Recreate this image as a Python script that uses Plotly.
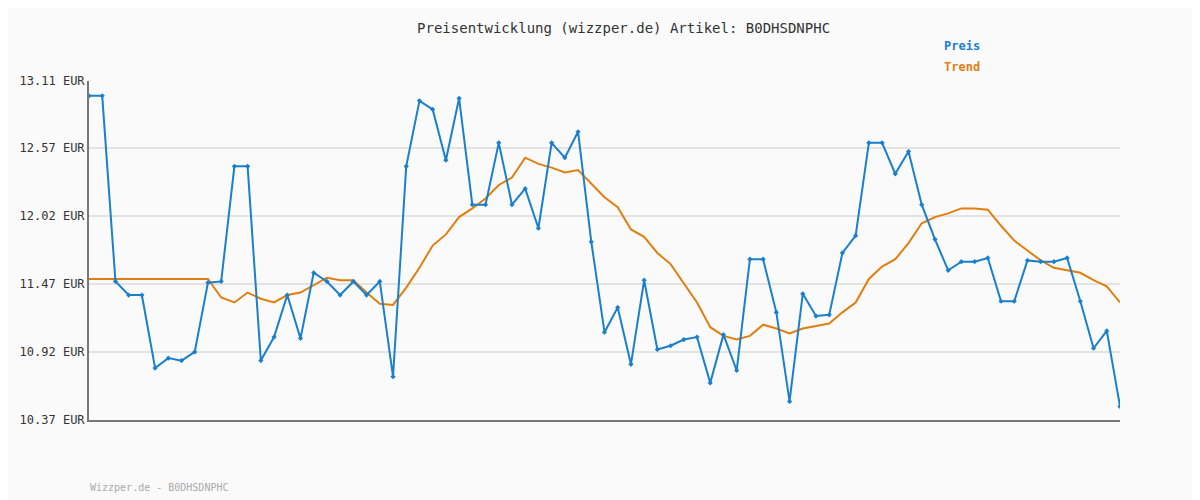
import plotly.graph_objects as go

# Daten
preis = [12.99, 12.99, 11.49, 11.38, 11.38, 10.79, 10.87, 10.85, 10.92, 11.48,
         11.49, 12.42, 12.42, 10.85, 11.04, 11.38, 11.03, 11.56, 11.49, 11.38,
         11.49, 11.38, 11.49, 10.72, 12.42, 12.95, 12.88, 12.47, 12.97, 12.11,
         12.11, 12.61, 12.11, 12.24, 11.92, 12.61, 12.49, 12.70, 11.81, 11.08,
         11.28, 10.82, 11.50, 10.94, 10.97, 11.02, 11.04, 10.67, 11.06, 10.77,
         11.67, 11.67, 11.24, 10.52, 11.39, 11.21, 11.22, 11.72, 11.86, 12.61,
         12.61, 12.36, 12.54, 12.11, 11.83, 11.58, 11.65, 11.65, 11.68, 11.33,
         11.33, 11.66, 11.65, 11.65, 11.68, 11.33, 10.95, 11.09, 10.48]
trend = [11.51] * 10 + [
    11.36, 11.32, 11.40, 11.35, 11.32, 11.38, 11.40, 11.46, 11.52, 11.50,
    11.50, 11.40, 11.31, 11.30, 11.44, 11.60, 11.78, 11.87, 12.01, 12.08,
    12.16, 12.27, 12.33, 12.49, 12.44, 12.41, 12.37, 12.39, 12.28, 12.17,
    12.09, 11.91, 11.85, 11.72, 11.63, 11.47, 11.32, 11.12, 11.05, 11.02,
    11.05, 11.14, 11.11, 11.07, 11.11, 11.13, 11.15, 11.24, 11.32, 11.51,
    11.61, 11.67, 11.80, 11.96, 12.01, 12.04, 12.08, 12.08, 12.07, 11.94,
    11.82, 11.74, 11.66, 11.60, 11.58, 11.56, 11.50, 11.45, 11.32]
x = list(range(len(preis)))
y_ticks = [10.37, 10.92, 11.47, 12.02, 12.57, 13.11]

mono = "DejaVu Sans Mono"
blau = "#1a7fcc"
orange = "#e07f10"

fig = go.Figure()
fig.add_trace(go.Scatter(x=x, y=trend, mode="lines", name="Trend",
                         line=dict(color=orange, width=2)))
fig.add_trace(go.Scatter(x=x, y=preis, mode="lines+markers", name="Preis",
                         line=dict(color=blau, width=2),
                         marker=dict(symbol="diamond", size=4, color=blau)))

fig.update_layout(
    width=1200, height=500,
    margin=dict(l=72, r=88, t=73, b=88),
    paper_bgcolor="#fafafa", plot_bgcolor="#fafafa",
    showlegend=False,
    font=dict(family=mono, size=12, color="#333"),
    title=dict(text="Preisentwicklung (wizzper.de) Artikel: B0DHSDNPHC",
               x=0.513, y=0.96, xanchor="center", yanchor="middle",
               font=dict(family=mono, size=14, color="#333")),
    xaxis=dict(range=[0, len(preis) - 1], showticklabels=False, showgrid=False,
               zeroline=False, showline=True, linecolor="#777", linewidth=2, ticks=""),
    yaxis=dict(range=[y_ticks[0], y_ticks[-1]], tickvals=y_ticks,
               ticktext=[f"{v:.2f} EUR" for v in y_ticks], showgrid=True,
               gridcolor="#e3e3e3", gridwidth=2, zeroline=False, showline=True,
               linecolor="#777", linewidth=2, ticks="", ticklen=0,
               tickfont=dict(family=mono, size=12, color="#333")),
)
fig.add_annotation(text="<b>Preis</b>", xref="paper", yref="paper", x=0.827, y=1.103,
                   xanchor="left", yanchor="middle", showarrow=False,
                   font=dict(family=mono, size=12, color=blau))
fig.add_annotation(text="<b>Trend</b>", xref="paper", yref="paper", x=0.827, y=1.041,
                   xanchor="left", yanchor="middle", showarrow=False,
                   font=dict(family=mono, size=12, color=orange))
fig.add_annotation(text="Wizzper.de - B0DHSDNPHC", xref="paper", yref="paper", x=-0.001, y=-0.2,
                   xanchor="left", yanchor="middle", showarrow=False,
                   font=dict(family=mono, size=10, color="#aaa"))

fig.write_html("out.html")
